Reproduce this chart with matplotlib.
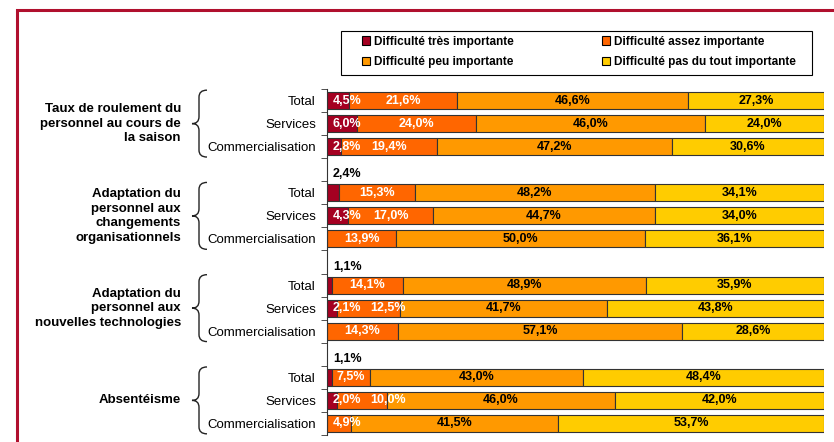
import numpy as np
import matplotlib
matplotlib.use("Agg")
from matplotlib import pyplot as plt
from matplotlib.patches import Patch, Rectangle, PathPatch
from matplotlib.path import Path

plt.rcParams['font.family'] = ['Liberation Sans', 'DejaVu Sans']

# Data (percentages)
groups = ["Taux de roulement du\npersonnel au cours de\nla saison",
          "Adaptation du\npersonnel aux\nchangements\norganisationnels",
          "Adaptation du\npersonnel aux\nnouvelles technologies",
          "Absentéisme"]
rows = ["Total", "Services", "Commercialisation"]
series = ["Difficulté très importante", "Difficulté assez importante",
          "Difficulté peu importante", "Difficulté pas du tout importante"]
tres = [4.5, 6.0, 2.8, 2.4, 4.3, 0.0, 1.1, 2.1, 0.0, 1.1, 2.0, 0.0]
assez = [21.6, 24.0, 19.4, 15.3, 17.0, 13.9, 14.1, 12.5, 14.3, 7.5, 10.0, 4.9]
peu = [46.6, 46.0, 47.2, 48.2, 44.7, 50.0, 48.9, 41.7, 57.1, 43.0, 46.0, 41.5]
pas = [27.3, 24.0, 30.6, 34.1, 34.0, 36.1, 35.9, 43.8, 28.6, 48.4, 42.0, 53.7]

colors = ['#A50021', '#FF6600', '#FF9900', '#FFCC00']
label_colors = ['white', 'white', 'black', 'black']
values = [tres, assez, peu, pas]


def fmt(v):
    return f"{v:.1f}".replace('.', ',') + '%'


# 3 rows per group, then one empty slot
ypos = np.array([g * 4 + r for g in range(len(groups)) for r in range(len(rows))])
row_names = [rows[i % 3] for i in range(len(ypos))]

fig = plt.figure(figsize=(8.34, 4.42), dpi=100)
ax = fig.add_axes([327 / 834, 7 / 442, 497 / 834, 346 / 442])

left = np.zeros(len(ypos))
for vals, c in zip(values, colors):
    ax.barh(ypos, vals, left=left, height=0.74, color=c,
            edgecolor='#333333', linewidth=0.8)
    left += np.array(vals)

ax.set_xlim(0, 100)
ax.set_ylim(14.5, -0.5)
ax.xaxis.set_visible(False)
for s in ['top', 'right', 'bottom']:
    ax.spines[s].set_visible(False)
ax.spines['left'].set_color('#333333')

ax.set_yticks(ypos)
ax.set_yticklabels(row_names, fontsize=9.5)
ax.tick_params(axis='y', which='major', length=0, pad=8)
ax.set_yticks(np.arange(-0.5, 15, 1), minor=True)
ax.tick_params(axis='y', which='minor', length=4, color='#333333')

# Group labels and braces
ytr = ax.get_yaxis_transform()
x0, xe, xt = (199 - 327) / 497, (207 - 327) / 497, (192 - 327) / 497
r = 0.3
for g, name in enumerate(groups):
    mid = g * 4 + 1
    top, bot = g * 4 - 0.45, g * 4 + 2.45
    ax.text((181 - 327) / 497, mid, name, transform=ytr, ha='right', va='center',
            fontweight='bold', fontsize=9.5, linespacing=1.28)
    verts = [(xe, top), (x0, top), (x0, top + r), (x0, mid - r), (x0, mid), (xt, mid),
             (x0, mid), (x0, mid + r), (x0, bot - r), (x0, bot), (xe, bot)]
    codes = [Path.MOVETO, Path.CURVE3, Path.CURVE3, Path.LINETO, Path.CURVE3, Path.CURVE3,
             Path.CURVE3, Path.CURVE3, Path.LINETO, Path.CURVE3, Path.CURVE3]
    ax.add_patch(PathPatch(Path(verts, codes), transform=ytr, fill=False,
                           edgecolor='#222222', lw=1.0, clip_on=False))

# Value labels, pushed right when they would overlap
fig.canvas.draw()
renderer = fig.canvas.get_renderer()
gap = 9
for i, y in enumerate(ypos):
    start = 0.0
    min_left = ax.transData.transform((0, y))[0] + 5.5
    for s in range(4):
        v = values[s][i]
        if v == 0:
            continue
        if s == 0 and row_names[i] == 'Total' and v < 3:
            ax.text(1.2, y - 0.8, fmt(v), ha='left', va='center', fontsize=9,
                    fontweight='bold', color='black')
            start += v
            continue
        mid = start + v / 2
        t = ax.text(mid, y, fmt(v), ha='center', va='center', fontsize=9,
                    fontweight='bold', color=label_colors[s])
        w = t.get_window_extent(renderer).width
        cx = ax.transData.transform((mid, y))[0]
        lft = max(cx - w / 2, min_left)
        t.set_x(ax.transData.inverted().transform((lft + w / 2, 0))[0])
        min_left = lft + w + gap
        start += v

# Legend with its own frame
handles = [Patch(facecolor=c, edgecolor='black', linewidth=0.8) for c in colors]
order = [0, 2, 1, 3]
fig.legend([handles[k] for k in order], [series[k] for k in order], loc='center',
           bbox_to_anchor=(362 / 834, 1 - 73 / 442, 434 / 834, 42 / 442), mode='expand',
           ncol=2, frameon=False, prop={'weight': 'bold', 'size': 8.5},
           handlelength=0.7, handleheight=0.7, handletextpad=0.35,
           labelspacing=0.75, borderpad=0, borderaxespad=0)
fig.add_artist(Rectangle((341 / 834, 1 - 75 / 442), 471 / 834, 44 / 442,
                         transform=fig.transFigure, fill=False, edgecolor='black', lw=0.8))

# Red frame around the chart
fig.add_artist(Rectangle((16.5 / 834, -0.2), 1.0, 1.2 - 9.5 / 442,
                         transform=fig.transFigure, fill=False, edgecolor='#B0102E', lw=2.2))

fig.savefig('out.png', dpi=100)
